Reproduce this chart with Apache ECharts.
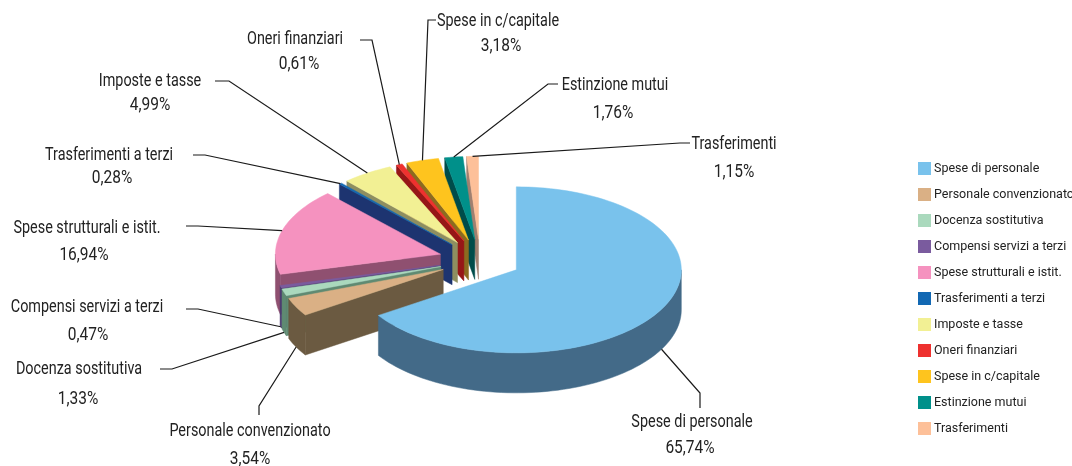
<!DOCTYPE html>
<html>
<head>
<meta charset="utf-8">
<style>
  html, body { margin: 0; padding: 0; background: #fff; }
  #chart { width: 1072px; height: 466px; }
</style>
<script src="https://cdn.jsdelivr.net/npm/echarts@6/dist/echarts.min.js"></script>
</head>
<body>
<div id="chart"></div>
<script>
var names = ['Spese di personale', 'Personale convenzionato', 'Docenza sostitutiva', 'Compensi servizi a terzi',
  'Spese strutturali e istit.', 'Trasferimenti a terzi', 'Imposte e tasse', 'Oneri finanziari',
  'Spese in c/capitale', 'Estinzione mutui', 'Trasferimenti'];
var values = [65.74, 3.54, 1.33, 0.47, 16.94, 0.28, 4.99, 0.61, 3.18, 1.76, 1.15];
var topColors = ['#79c2ec', '#dab085', '#aad9bd', '#7a5b9e', '#f592bf', '#1268b3', '#f2f094', '#ee312f', '#fec41e', '#00908a', '#fdc099'];
var wallColors = ['#436a88', '#6b5a41', '#5f8a72', '#4a3a70', '#8f5070', '#1d3470', '#8e8e60', '#961717', '#8c6b20', '#004c4a', '#a08070'];

// label layout: [name x, name y, percent x, percent y], elbow of the leader: [x, y, end x]
var labelPos = [[692, 421, 690, 447], [250, 430, 250, 458], [79, 368, 78, 398], [87, 306, 88, 334], [87, 227, 84, 254], [109, 154, 112, 177],
  [150, 80, 150, 104], [295, 38, 299, 63], [498, 20, 501, 45], [615, 84, 613, 112], [734, 143, 734, 171]];
var elbows = [[700, 393, 408], [259, 406, 415], [172, 369, 160], [198, 309, 186], [198, 226, 186], [205, 155, 193],
  [229, 81, 215], [372, 40, 360], [428, 20, 436], [548, 84, 558], [680, 143, 690]];

var CX = 480, CY = 260, RX = 165, RY = 83, DEPTH = 40, EXPLODE = 0.25;
var FONT = 'Roboto, sans-serif';

var total = values.reduce(function (a, b) { return a + b; }, 0);
var starts = [];
values.reduce(function (sum, v, i) { starts[i] = sum / total * 360; return sum + v; }, 0);

function pt(cx, cy, deg, dy) {
  var r = deg * Math.PI / 180;
  return [cx + RX * Math.sin(r), cy - RY * Math.cos(r) + (dy || 0)];
}

function arc(cx, cy, a, b, dy) {
  var pts = [], n = Math.max(2, Math.ceil((b - a) / 2));
  for (var i = 0; i <= n; i++) pts.push(pt(cx, cy, a + (b - a) * i / n, dy));
  return pts;
}

function renderSlice(i) {
  var a = starts[i], b = a + values[i] / total * 360, mid = (a + b) / 2;
  var ap = pt(CX, CY, mid);
  var ax = CX + (ap[0] - CX) * EXPLODE, ay = CY + (ap[1] - CY) * EXPLODE;
  var kids = [];
  function poly(points, fill) {
    kids.push({ type: 'polygon', shape: { points: points }, style: { fill: fill, stroke: fill, lineWidth: 0.5 } });
  }
  var wall = wallColors[i];
  // cut faces look at the viewer only on one half of the turn
  function cut(deg) {
    var p = pt(ax, ay, deg);
    poly([[ax, ay], p, [p[0], p[1] + DEPTH], [ax, ay + DEPTH]], wall);
  }
  if (a > 180) cut(a);
  if (b % 360 > 0 && b < 180) cut(b);
  var wa = Math.max(a, 90), wb = Math.min(b, 270);
  if (wb > wa) {
    poly(arc(ax, ay, wa, wb, 0).concat(arc(ax, ay, wa, wb, DEPTH).reverse()), wall);
  }
  poly([[ax, ay]].concat(arc(ax, ay, a, b, 0)), topColors[i]);

  var from = pt(ax, ay, mid, mid > 90 && mid < 270 ? DEPTH : 0);
  var e = elbows[i];
  kids.push({
    type: 'polyline',
    shape: { points: [from, [e[0], e[1]], i === 0 || i === 1 ? [e[0], e[2]] : [e[2], e[1]]] },
    style: { fill: null, stroke: '#1a1a1a', lineWidth: 1.2 }
  });
  var l = labelPos[i];
  [names[i], values[i].toFixed(2).replace('.', ',') + '%'].forEach(function (t, k) {
    kids.push({
      type: 'text',
      x: l[k * 2],
      y: l[k * 2 + 1] + 1,
      scaleX: k === 0 ? 0.8 : 0.86,
      style: { x: 0, y: 0, text: t, fill: '#222', font: '18px ' + FONT, align: 'center', verticalAlign: 'middle' }
    });
  });
  return { type: 'group', children: kids };
}

// back to front: the last slice is furthest away, the big one sits in front
var series = names.map(function (name, i) {
  return {
    name: name,
    type: 'custom',
    coordinateSystem: 'none',
    silent: true,
    itemStyle: { color: topColors[i] },
    data: [values[i]],
    renderItem: function () { return renderSlice(i); }
  };
}).reverse();

var chart = echarts.init(document.getElementById('chart'));
chart.setOption({
  backgroundColor: '#fff',
  animation: false,
  legend: {
    data: names,
    orient: 'vertical',
    left: 913,
    top: 157,
    padding: 5,
    itemWidth: 13,
    itemHeight: 13,
    itemGap: 13,
    icon: 'rect',
    selectedMode: false,
    textStyle: { color: '#222', fontFamily: FONT, fontSize: 12.5, padding: [0, 0, 0, -2] }
  },
  series: series
});
</script>
</body>
</html>
